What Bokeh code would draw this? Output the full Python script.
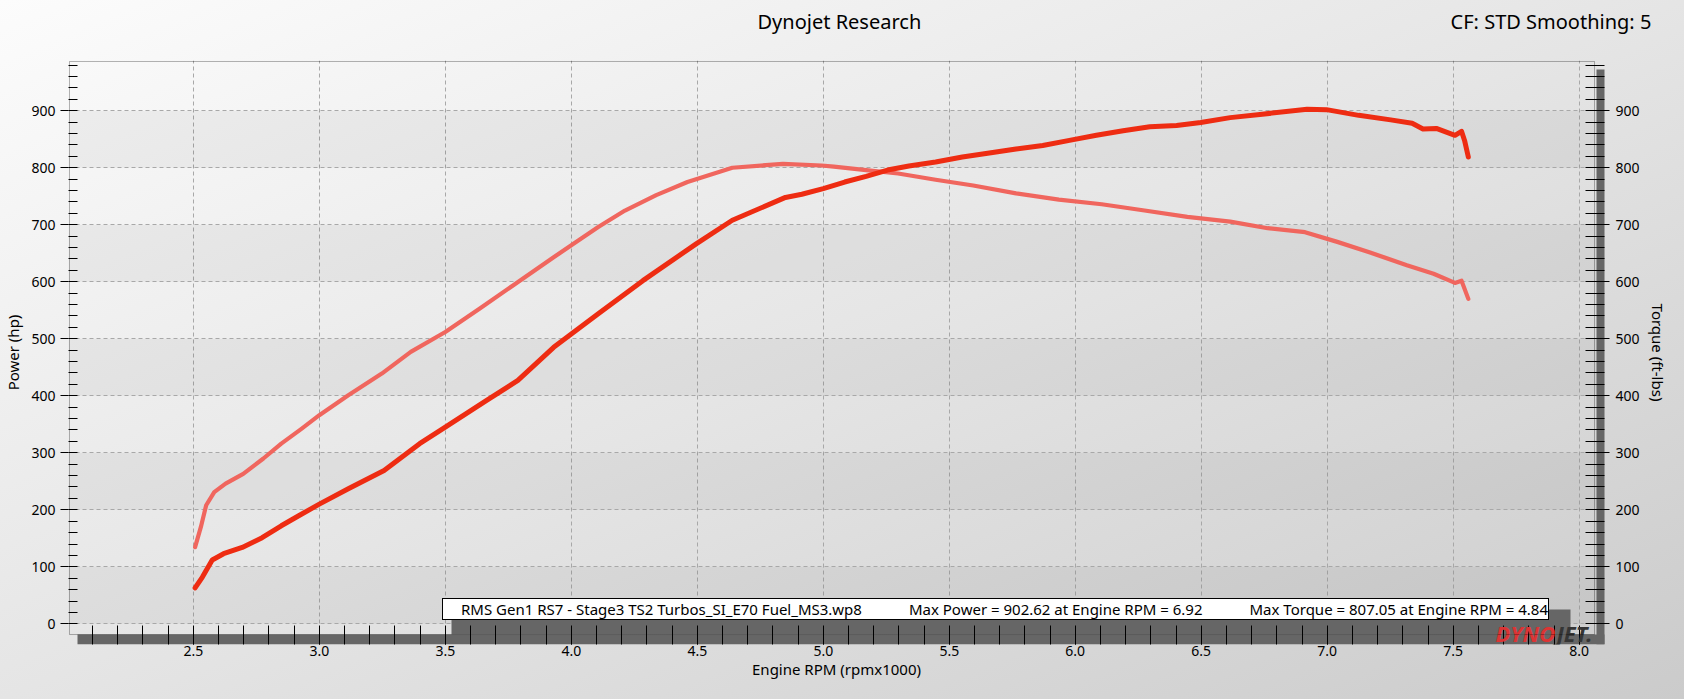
from bokeh.plotting import figure
from bokeh.models import (Range1d, LinearAxis, FixedTicker, PrintfTickFormatter,
                          Legend, LegendItem, Label, BoxAnnotation)
from bokeh.embed import file_html
from bokeh.resources import INLINE

# ---------------- data ----------------
rpm_power = [2.507, 2.536, 2.575, 2.62, 2.694, 2.773, 2.849, 2.92, 3.0, 3.115, 3.257, 3.398,
             3.5, 3.664, 3.788, 3.93, 4.107, 4.284, 4.497, 4.639, 4.85, 4.915, 5.0, 5.085,
             5.17, 5.255, 5.34, 5.446, 5.552, 5.659, 5.765, 5.871, 5.977, 6.084, 6.19, 6.296,
             6.402, 6.498, 6.615, 6.742, 6.92, 6.997, 7.125, 7.252, 7.337, 7.38, 7.433, 7.507,
             7.533, 7.545, 7.56]
power_hp = [63, 82, 112, 123, 134, 151, 172, 190, 210, 237, 269, 316,
            345, 392, 427, 485, 544, 602, 667, 708, 748, 753.5, 763.5, 775,
            785, 796, 803, 810, 819, 826, 833, 839, 848, 857, 865, 872,
            874, 879.5, 888, 894, 902.6, 902, 892, 884, 878, 868, 869, 857,
            864, 848, 819]

rpm_torque = [2.507, 2.53, 2.551, 2.583, 2.628, 2.698, 2.778, 2.849, 2.929, 3.0, 3.115, 3.248,
              3.363, 3.5, 3.637, 3.77, 3.93, 4.0, 4.107, 4.213, 4.337, 4.461, 4.639, 4.84,
              4.993, 5.042, 5.17, 5.297, 5.446, 5.595, 5.765, 5.935, 6.105, 6.275, 6.445, 6.615,
              6.764, 6.912, 7.04, 7.167, 7.316, 7.422, 7.507, 7.533, 7.56]
torque_ftlb = [134.5, 170, 208, 231, 246, 263, 290, 316, 342, 366, 401, 439,
               477, 512, 553, 594, 643, 664, 696, 725, 752, 775, 800, 807,
               804, 802, 796, 790, 779, 769, 755, 744, 736, 725, 714, 705.5,
               694, 687, 670, 652, 629, 614, 598, 602, 570]

x_major_ticks = [2.5, 3.0, 3.5, 4.0, 4.5, 5.0, 5.5, 6.0, 6.5, 7.0, 7.5, 8.0]
x_minor_ticks = [round(2.1 + 0.1 * i, 1) for i in range(60)]
y_major_ticks = [0, 100, 200, 300, 400, 500, 600, 700, 800, 900]
y_minor_ticks = [20 * i for i in range(50)]

title_text = "Dynojet Research"
corner_text = "CF: STD Smoothing: 5"
x_label = "Engine RPM (rpmx1000)"
y_label_left = "Power (hp)"
y_label_right = "Torque (ft-lbs)"
legend_file = "RMS Gen1 RS7 - Stage3 TS2 Turbos_SI_E70 Fuel_MS3.wp8"
legend_power = "Max Power = 902.62 at Engine RPM = 6.92"
legend_torque = "Max Torque = 807.05 at Engine RPM = 4.84"

# header text anchors (along the rpm scale)
TITLE_AT = 5.064
CORNER_AT = 7.888

# visible axis box, and the frame that also holds the drop shadow
X_VIS = (2.0085, 8.0608)
Y_VIS = (-18.8, 986.5)
X_FRAME = (2.0046, 8.1004)
Y_FRAME = (-36.3, 988.2)

# ---------------- styling ----------------
FONT = "Noto Sans"
POWER_C = "#ee2c12"
TORQUE_C = "#f0665e"
GRID_C = "#a8a8a8"
SHADOW_C = "#666666"

p = figure(width=1684, height=699, output_backend="svg", toolbar_location=None,
           x_range=Range1d(*X_FRAME), y_range=Range1d(*Y_FRAME),
           min_border_left=66, min_border_right=80, min_border_top=60, min_border_bottom=55)
p.title = None
p.extra_y_ranges = {"torque": Range1d(*Y_FRAME)}

p.styles = {"background": "linear-gradient(to bottom right, #fcfcfc 0%, #e5e5e5 50%, #cbcbcb 100%)"}
p.border_fill_alpha = 0
p.background_fill_alpha = 0
p.outline_line_color = None

xt = FixedTicker(ticks=x_major_ticks, minor_ticks=x_minor_ticks)
yt = FixedTicker(ticks=y_major_ticks, minor_ticks=y_minor_ticks)

# header texts on a bare axis above the plot
top = LinearAxis(ticker=FixedTicker(ticks=[TITLE_AT, CORNER_AT]),
                 major_label_overrides={TITLE_AT: title_text, CORNER_AT: corner_text})
top.axis_line_color = None
top.major_tick_line_color = None
top.minor_tick_line_color = None
top.major_tick_in = 0
top.major_tick_out = 0
top.minor_tick_in = 0
top.minor_tick_out = 0
top.major_label_standoff = 26
top.major_label_text_font = FONT
top.major_label_text_font_size = "20px"
top.major_label_text_color = "black"
p.add_layout(top, "above")

xa = p.below[0]
xa.ticker = xt
xa.formatter = PrintfTickFormatter(format="%.1f")
xa.axis_label = x_label
xa.major_tick_in = 10
xa.major_tick_out = 0
xa.minor_tick_in = 19
xa.minor_tick_out = 0
xa.major_label_standoff = 1
xa.axis_label_standoff = 0

ya = p.left[0]
ya.ticker = yt
ya.axis_label = y_label_left
ya.major_tick_in = 0
ya.major_tick_out = 8
ya.minor_tick_in = 9
ya.minor_tick_out = 0
ya.major_label_standoff = 5
ya.axis_label_standoff = 5

yr = LinearAxis(y_range_name="torque", ticker=yt, axis_label=y_label_right)
yr.major_tick_in = 10
yr.major_tick_out = 5
yr.minor_tick_in = 19
yr.minor_tick_out = 0
yr.major_label_standoff = 6
yr.axis_label_standoff = 5
p.add_layout(yr, "right")

for ax in (xa, ya, yr):
    ax.axis_line_color = None
    ax.major_tick_line_color = "black"
    ax.minor_tick_line_color = "black"
    ax.major_label_text_font = FONT
    ax.major_label_text_font_size = "14px"
    ax.major_label_text_color = "black"
    ax.axis_label_text_font = FONT
    ax.axis_label_text_font_size = "15px"
    ax.axis_label_text_font_style = "normal"
    ax.axis_label_text_color = "black"

p.xgrid.ticker = xt
p.ygrid.ticker = yt
for g in (p.xgrid, p.ygrid):
    g.grid_line_color = GRID_C
    g.grid_line_dash = "4 3"
    g.grid_line_width = 1
p.ygrid.band_fill_color = "black"
p.ygrid.band_fill_alpha = 0.045

# drop shadows (screen units, relative to the frame)
def shadow(l, r, b, t):
    return BoxAnnotation(left=l, right=r, bottom=b, top=t,
                         left_units="screen", right_units="screen",
                         top_units="screen", bottom_units="screen",
                         fill_color=SHADOW_C, fill_alpha=1, line_color=None, level="underlay")

p.add_layout(shadow(1528, 1538, 0, 575))
p.add_layout(shadow(9, 1538, 0, 10))
p.add_layout(shadow(383, 1502, 10, 35))

# plot-area border
p.add_layout(BoxAnnotation(left=X_VIS[0], right=X_VIS[1], bottom=Y_VIS[0], top=Y_VIS[1],
                           fill_alpha=0, line_color="black", line_width=1, level="overlay"))

# curves
r_tq = p.line(rpm_torque, torque_ftlb, y_range_name="torque", line_color=TORQUE_C,
              line_width=4.2, line_join="round", line_cap="round")
r_pw = p.line(rpm_power, power_hp, line_color=POWER_C, line_width=5,
              line_join="round", line_cap="round")

# legend proxies
r_blank = p.quad(left=[], right=[], top=[], bottom=[], fill_alpha=0, line_alpha=0)
r_pw_sq = p.quad(left=[], right=[], top=[], bottom=[], fill_color=POWER_C, line_color=None)
r_tq_sq = p.quad(left=[], right=[], top=[], bottom=[], fill_color=TORQUE_C, line_color=None)

# logo
p.add_layout(Label(x=1427, y=12, x_units="screen", y_units="screen", text="DYNO",
                   text_align="left", text_baseline="alphabetic", text_font=FONT,
                   text_font_size="22px", text_font_style="bold italic", text_color="#dc3434"))
p.add_layout(Label(x=1488, y=12, x_units="screen", y_units="screen", text="JET.",
                   text_align="left", text_baseline="alphabetic", text_font=FONT,
                   text_font_size="22px", text_font_style="bold italic", text_color="#353535"))

legend = Legend(items=[LegendItem(label=legend_file, renderers=[r_blank]),
                       LegendItem(label=legend_power, renderers=[r_pw_sq]),
                       LegendItem(label=legend_torque, renderers=[r_tq_sq])],
                orientation="horizontal", location=(374, 24),
                glyph_width=12, glyph_height=12, label_height=12, label_standoff=6,
                spacing=29, padding=0, margin=0,
                border_line_color="black", border_line_width=1, border_line_alpha=1,
                background_fill_color="white", background_fill_alpha=1,
                label_text_font=FONT, label_text_font_size="15px", label_text_color="black")
p.add_layout(legend, "center")

open("out.html", "w").write(file_html(p, INLINE))
